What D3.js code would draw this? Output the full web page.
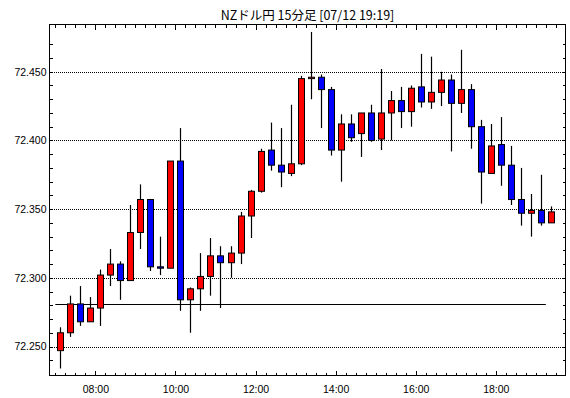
<!DOCTYPE html>
<html>
<head>
<meta charset="utf-8">
<script src="https://cdn.jsdelivr.net/npm/d3@7"></script>
<style>
  body { margin: 0; background: #fff; }
  svg { display: block; }
  .axis text { font-family: "Liberation Sans", Arial, sans-serif; font-size: 10.5px; fill: #000; }
  .axis path, .axis line { stroke: #000; shape-rendering: crispEdges; }
</style>
</head>
<body>
<svg id="chart"></svg>
<script>
// 15 minute candles, start time of each bar
var times = ["07:00","07:15","07:30","07:45","08:00","08:15","08:30","08:45",
    "09:00","09:15","09:30","09:45","10:00","10:15","10:30","10:45",
    "11:00","11:15","11:30","11:45","12:00","12:15","12:30","12:45",
    "13:00","13:15","13:30","13:45","14:00","14:15","14:30","14:45",
    "15:00","15:15","15:30","15:45","16:00","16:15","16:30","16:45",
    "17:00","17:15","17:30","17:45","18:00","18:15","18:30","18:45",
    "19:00","19:15"];
var opens = [72.247,72.260,72.281,72.268,72.278,72.302,72.310,72.298,
    72.333,72.357,72.308,72.307,72.385,72.284,72.292,72.301,
    72.316,72.311,72.318,72.345,72.363,72.393,72.382,72.376,
    72.383,72.445,72.446,72.437,72.393,72.412,72.405,72.420,
    72.401,72.420,72.429,72.421,72.439,72.428,72.435,72.444,
    72.427,72.437,72.410,72.376,72.397,72.382,72.357,72.347,
    72.349,72.340];
var highs = [72.264,72.287,72.294,72.286,72.306,72.321,72.312,72.353,
    72.368,72.357,72.330,72.385,72.409,72.293,72.318,72.329,
    72.323,72.323,72.348,72.364,72.394,72.413,72.409,72.426,
    72.447,72.479,72.448,72.439,72.419,72.419,72.420,72.426,
    72.452,72.436,72.439,72.440,72.463,72.461,72.450,72.448,
    72.466,72.441,72.415,72.412,72.417,72.396,72.380,72.361,
    72.375,72.352];
var lows = [72.234,72.257,72.265,72.268,72.265,72.294,72.284,72.298,
    72.321,72.305,72.302,72.307,72.276,72.260,72.276,72.287,
    72.278,72.300,72.310,72.329,72.362,72.378,72.366,72.374,
    72.382,72.430,72.409,72.389,72.370,72.399,72.388,72.399,
    72.393,72.400,72.409,72.410,72.424,72.423,72.425,72.392,
    72.420,72.394,72.354,72.376,72.367,72.353,72.338,72.330,
    72.338,72.340];
var closes = [72.260,72.281,72.268,72.278,72.302,72.310,72.298,72.333,
    72.357,72.308,72.307,72.385,72.284,72.292,72.301,72.316,
    72.311,72.318,72.345,72.363,72.392,72.382,72.377,72.383,
    72.445,72.446,72.437,72.393,72.412,72.402,72.420,72.400,
    72.420,72.429,72.421,72.438,72.428,72.435,72.444,72.427,
    72.437,72.410,72.377,72.396,72.382,72.357,72.347,72.349,
    72.340,72.348];

var gridValues = [72.25, 72.30, 72.35, 72.40, 72.45];
var refLevel = 72.281;
var title = "NZドル円 15分足 [07/12 19:19]";

var width = 570, height = 398;
var plotLeft = 49.5, plotRight = 565.5, plotTop = 24.5, plotBottom = 375.5;

function at(hm) {
    var p = hm.split(":");
    return new Date(2023, 6, 12, +p[0], +p[1], +(p[2] || 0));
}

var data = times.map(function (t, i) {
    return {t: at(t), o: opens[i], h: highs[i], l: lows[i], c: closes[i]};
});

var x = d3.scaleTime()
    .domain([at("06:51:15"), at("19:44:30")])
    .range([plotLeft, plotRight]);
var y = d3.scaleLinear()
    .domain([72.2289, 72.4844])
    .range([plotBottom, plotTop]);

var svg = d3.select("#chart")
    .attr("width", width)
    .attr("height", height);

// dotted grid
svg.append("g").selectAll("line")
    .data(gridValues)
    .enter().append("line")
    .attr("x1", plotLeft).attr("x2", plotRight)
    .attr("y1", function (d) { return Math.round(y(d)) + 0.5; })
    .attr("y2", function (d) { return Math.round(y(d)) + 0.5; })
    .attr("stroke", "#000")
    .attr("stroke-dasharray", "1,1")
    .attr("shape-rendering", "crispEdges");

// reference level
svg.append("line")
    .attr("x1", x(at("07:00"))).attr("x2", x(at("19:15")))
    .attr("y1", Math.round(y(refLevel)) + 0.5)
    .attr("y2", Math.round(y(refLevel)) + 0.5)
    .attr("stroke", "#000")
    .attr("stroke-width", 1.2);

// ticks
var minorY = d3.range(24, 48).map(function (k) { return 72 + k / 100; });
var quarterTicks = d3.timeMinute.every(15).range(at("07:00"), at("19:31"));
var twoHourTicks = d3.timeHour.every(2).range(at("08:00"), at("18:01"));

svg.append("g").attr("class", "axis")
    .attr("transform", "translate(" + plotLeft + ",0)")
    .call(d3.axisLeft(y).tickValues(minorY).tickSizeInner(-3).tickSizeOuter(0).tickFormat(""))
    .select(".domain").remove();
svg.append("g").attr("class", "axis")
    .attr("transform", "translate(" + plotLeft + ",0)")
    .call(d3.axisLeft(y).tickValues(gridValues).tickSize(0).tickPadding(3).tickFormat(d3.format(".3f")))
    .select(".domain").remove();
svg.append("g").attr("class", "axis")
    .attr("transform", "translate(" + plotRight + ",0)")
    .call(d3.axisRight(y).tickValues(minorY).tickSizeInner(-3).tickSizeOuter(0).tickFormat(""))
    .select(".domain").remove();

[[plotBottom, d3.axisBottom], [plotTop, d3.axisTop]].forEach(function (a) {
    svg.append("g").attr("class", "axis")
        .attr("transform", "translate(0," + a[0] + ")")
        .call(a[1](x).tickValues(quarterTicks).tickSizeInner(-3).tickSizeOuter(0).tickFormat(""))
        .select(".domain").remove();
    svg.append("g").attr("class", "axis")
        .attr("transform", "translate(0," + a[0] + ")")
        .call(a[1](x).tickValues(twoHourTicks).tickSizeInner(-5).tickSizeOuter(0).tickFormat(""))
        .select(".domain").remove();
});
svg.append("g").attr("class", "axis")
    .attr("transform", "translate(0," + plotBottom + ")")
    .call(d3.axisBottom(x).tickValues(twoHourTicks).tickSize(0).tickPadding(10).tickFormat(d3.timeFormat("%H:%M")))
    .select(".domain").remove();

// candles
var half = 7.5 * 60 * 1000;
var candles = svg.append("g").selectAll("g")
    .data(data)
    .enter().append("g");

candles.append("line")
    .attr("x1", function (d) { return Math.round(x(+d.t + half)) + 0.5; })
    .attr("x2", function (d) { return Math.round(x(+d.t + half)) + 0.5; })
    .attr("y1", function (d) { return y(d.h); })
    .attr("y2", function (d) { return y(d.l); })
    .attr("stroke", "#000")
    .attr("stroke-width", 1.2);

candles.append("rect")
    .attr("x", function (d) { return Math.round(x(+d.t + half)) - 2.5; })
    .attr("y", function (d) { return y(Math.max(d.o, d.c)); })
    .attr("width", 6)
    .attr("height", function (d) { return Math.max(1, y(Math.min(d.o, d.c)) - y(Math.max(d.o, d.c))); })
    .attr("fill", function (d) { return d.c > d.o ? "#ff0000" : "#0000ff"; })
    .attr("stroke", "#000")
    .attr("stroke-width", 1);

// frame
svg.append("rect")
    .attr("x", plotLeft).attr("y", plotTop)
    .attr("width", plotRight - plotLeft).attr("height", plotBottom - plotTop)
    .attr("fill", "none")
    .attr("stroke", "#000")
    .attr("shape-rendering", "crispEdges");

svg.append("text")
    .attr("x", (plotLeft + plotRight) / 2)
    .attr("y", 20)
    .attr("text-anchor", "middle")
    .style("font-family", "'Noto Sans CJK JP', sans-serif")
    .style("font-size", "12.5px")
    .text(title);
</script>
</body>
</html>
